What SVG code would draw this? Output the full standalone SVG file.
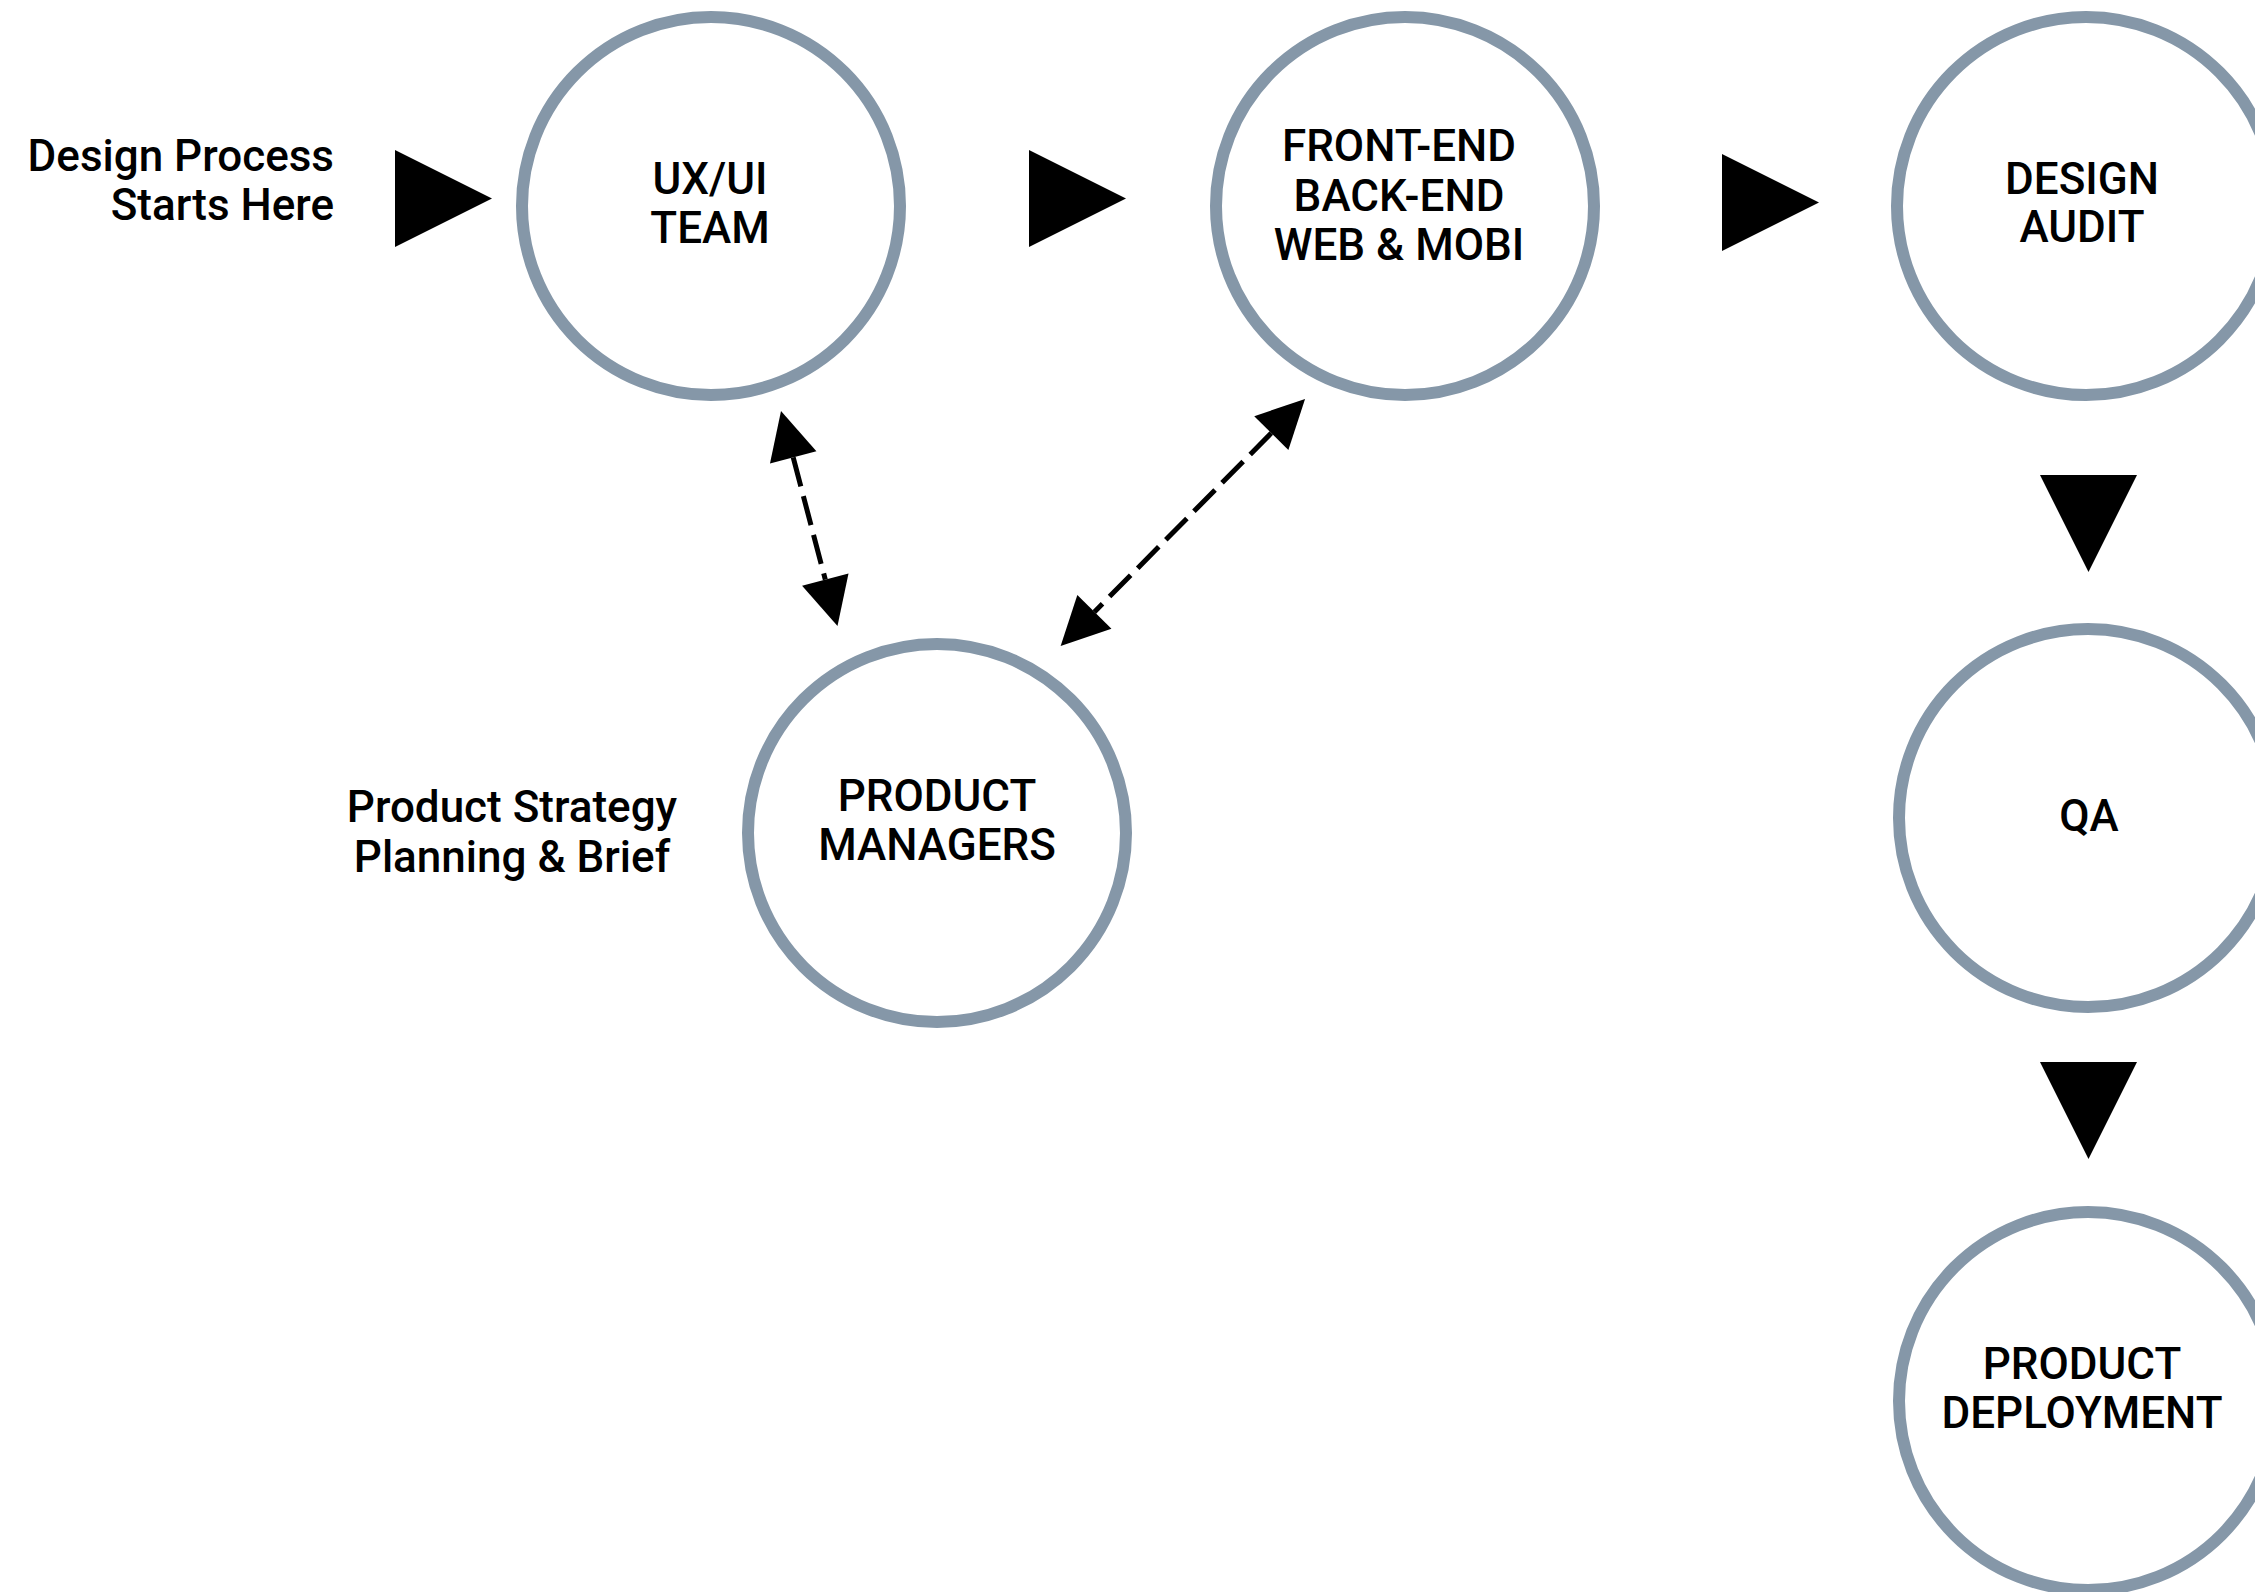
<svg xmlns="http://www.w3.org/2000/svg" width="2255" height="1592" viewBox="0 0 2255 1592">
  <style>
    .node { fill: #ffffff; stroke: #8597a8; stroke-width: 12; }
    .label { font-family: Roboto, "Liberation Sans", sans-serif; font-weight: 500; font-size: 44px; fill: #000000; text-anchor: middle; }
    .note { font-family: Roboto, "Liberation Sans", sans-serif; font-weight: 500; font-size: 44px; fill: #000000; }
    .dash { fill: none; stroke: #000000; stroke-width: 5; stroke-dasharray: 30 10; marker-start: url(#head); marker-end: url(#head); }
    .tri { fill: #000000; }
  </style>
  <defs>
    <marker id="head" markerUnits="userSpaceOnUse" markerWidth="50" markerHeight="50" refX="0" refY="24" orient="auto-start-reverse" overflow="visible">
      <path d="M0,0 L48,24 L0,48 Z" fill="#000000"/>
    </marker>
    <path id="triRight" d="M0,0 L97,48.5 L0,97 Z"/>
    <path id="triDown" d="M0,0 L97,0 L48.5,97 Z"/>
  </defs>
  <rect width="2255" height="1592" fill="#ffffff"/>

  <g id="connectors">
    <use href="#triRight" class="tri" x="395" y="150"/>
    <use href="#triRight" class="tri" x="1029" y="150"/>
    <use href="#triRight" class="tri" x="1722" y="154"/>
    <use href="#triDown" class="tri" x="2040" y="475"/>
    <use href="#triDown" class="tri" x="2040" y="1062"/>
    <line class="dash" x1="793.2" y1="457.4" x2="825.3" y2="579.6"/>
    <line class="dash" x1="1271.3" y1="433.1" x2="1094.4" y2="611.9"/>
  </g>

  <g id="note-start">
    <text class="note" text-anchor="end" x="334" y="171">Design Process</text>
    <text class="note" text-anchor="end" x="334" y="220">Starts Here</text>
  </g>

  <g id="note-strategy">
    <text class="note" text-anchor="middle" x="512" y="822">Product Strategy</text>
    <text class="note" text-anchor="middle" x="512" y="872">Planning &amp; Brief</text>
  </g>

  <g id="node-uxui">
    <circle class="node" cx="711" cy="206" r="189"/>
    <text class="label" x="710" y="194">UX/UI</text>
    <text class="label" x="710" y="243">TEAM</text>
  </g>

  <g id="node-frontend">
    <circle class="node" cx="1405" cy="206" r="189"/>
    <text class="label" x="1399" y="161">FRONT-END</text>
    <text class="label" x="1399" y="211">BACK-END</text>
    <text class="label" x="1399" y="260">WEB &amp; MOBI</text>
  </g>

  <g id="node-design-audit">
    <circle class="node" cx="2086" cy="206" r="189"/>
    <text class="label" x="2082" y="194">DESIGN</text>
    <text class="label" x="2082" y="242">AUDIT</text>
  </g>

  <g id="node-product-managers">
    <circle class="node" cx="937" cy="833" r="189"/>
    <text class="label" x="937" y="811">PRODUCT</text>
    <text class="label" x="937" y="860">MANAGERS</text>
  </g>

  <g id="node-qa">
    <circle class="node" cx="2088" cy="818" r="189"/>
    <text class="label" x="2089" y="831">QA</text>
  </g>

  <g id="node-product-deployment">
    <circle class="node" cx="2088" cy="1401" r="189"/>
    <text class="label" x="2082" y="1379">PRODUCT</text>
    <text class="label" x="2082" y="1428">DEPLOYMENT</text>
  </g>
</svg>
